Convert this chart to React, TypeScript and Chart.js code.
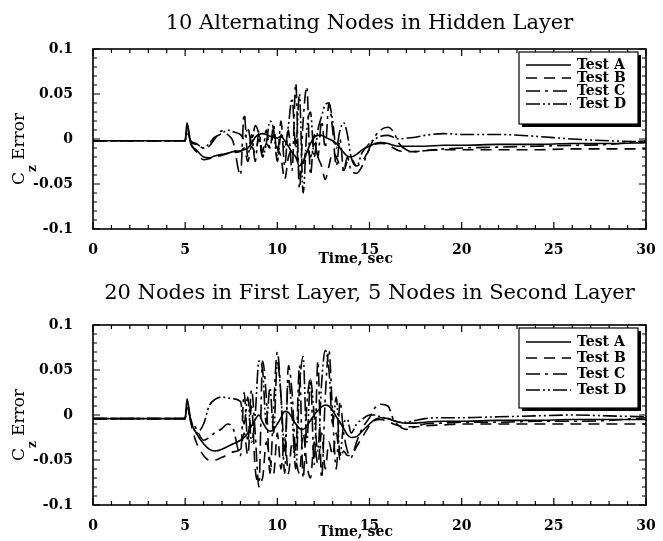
import React, { useEffect, useRef } from "react";
import { Chart, registerables } from "chart.js";

Chart.register(...registerables);

// ---------------- data ----------------
const timeSec = [
  0, 4.9, 5.0, 5.1, 5.3, 5.6, 6.0, 6.3, 6.6, 7.0, 7.3, 7.6, 8.0, 8.2, 8.4, 8.6, 8.8, 9.0, 9.2, 9.4,
  9.6, 9.8, 10.0, 10.2, 10.4, 10.6, 10.8, 11.0, 11.2, 11.4, 11.6, 11.8, 12.0, 12.2, 12.4, 12.6, 12.8,
  13.0, 13.2, 13.4, 13.6, 13.8, 14.0, 14.3, 14.6, 15.0, 15.3, 15.6, 16.0, 16.3, 16.6, 17.0, 17.5, 18,
  19, 20, 22, 24, 26, 28, 30,
];

const seriesLabels = ["Test A", "Test B", "Test C", "Test D"];

const topTitle = "10 Alternating Nodes in Hidden Layer";
const bottomTitle = "20 Nodes in First Layer, 5 Nodes in Second Layer";
const xAxisTitle = "Time, sec";

const xTickValues = [0, 5, 10, 15, 20, 25, 30];
const xTickLabels = ["0", "5", "10", "15", "20", "25", "30"];
const yTickValues = [-0.1, -0.05, 0, 0.05, 0.1];
const yTickLabels = ["-0.1", "-0.05", "0", "0.05", "0.1"];

// top panel: 10 alternating nodes in hidden layer
const topTestA = [
  -0.002, -0.002, -0.002, 0.018, -0.005, -0.012, -0.02, -0.021, -0.019, -0.017, -0.016, -0.014, -0.013,
  -0.012, -0.01, -0.005, 0.002, 0.005, 0.006, 0.005, 0.003, 0.002, 0.001, 0.003, -0.002, -0.008, -0.015,
  -0.02, -0.03, -0.025, -0.015, -0.005, 0.002, 0.004, 0.004, 0.002, 0.0, -0.002, -0.005, -0.01, -0.015,
  -0.019, -0.02, -0.017, -0.012, -0.008, -0.005, -0.004, -0.005, -0.007, -0.008, -0.008, -0.008, -0.008,
  -0.007, -0.007, -0.006, -0.006, -0.005, -0.005, -0.004,
];
const topTestB = [
  -0.002, -0.002, -0.002, 0.015, -0.004, -0.014, -0.023, -0.022, -0.02, -0.018, -0.016, -0.015, -0.014,
  -0.01, -0.025, -0.008, -0.015, 0.0, -0.02, -0.005, -0.01, 0.005, -0.01, -0.02, -0.045, -0.02, -0.01,
  0.0, -0.04, -0.03, -0.01, -0.02, -0.005, -0.02, -0.03, -0.045, -0.03, -0.015, -0.02, -0.03, -0.035,
  -0.025, -0.022, -0.03, -0.025, -0.012, -0.006, -0.005, -0.006, -0.01, -0.013, -0.014, -0.014, -0.013,
  -0.012, -0.012, -0.012, -0.012, -0.011, -0.011, -0.011,
];
const topTestC = [
  -0.002, -0.002, -0.002, 0.01, -0.003, -0.006, -0.01, -0.008, 0.0, 0.009, 0.005, -0.003, -0.04, 0.028,
  -0.02, 0.005, -0.025, 0.008, -0.015, 0.01, -0.01, 0.015, -0.02, 0.02, -0.03, 0.01, -0.035, 0.062,
  -0.055, 0.02, 0.058, -0.04, 0.005, -0.02, 0.02, -0.01, 0.04, 0.01, -0.03, 0.0, -0.035, -0.02, -0.035,
  -0.038, -0.03, -0.01, 0.003, 0.01, 0.013, 0.008, -0.005, -0.012, -0.014, -0.013, -0.011, -0.01,
  -0.009, -0.008, -0.007, -0.006, -0.002,
];
const topTestD = [
  -0.002, -0.002, -0.002, 0.008, -0.002, -0.005, -0.01, -0.005, 0.002, 0.006, 0.01, 0.008, 0.005, 0.0,
  0.012, -0.005, 0.015, 0.005, -0.02, -0.005, 0.02, 0.01, -0.025, 0.005, -0.01, 0.015, 0.045, -0.01,
  0.05, -0.06, 0.01, 0.03, -0.02, 0.01, 0.025, 0.038, 0.04, 0.02, -0.01, 0.01, 0.018, 0.005, -0.02,
  -0.03, -0.015, -0.005, 0.0, 0.003, 0.004, 0.002, 0.0, 0.001, 0.002, 0.004, 0.006, 0.005, 0.005,
  0.003, 0.0, -0.002, -0.003,
];

// bottom panel: 20 nodes in first layer, 5 nodes in second layer
const bottomTestA = [
  -0.004, -0.004, -0.004, 0.018, -0.006, -0.02, -0.032, -0.038, -0.04, -0.038, -0.035, -0.032, -0.028,
  -0.025, -0.02, -0.012, -0.005, 0.0, -0.008, -0.015, -0.018, -0.016, -0.01, -0.003, 0.004, 0.003,
  -0.003, -0.01, -0.015, -0.016, -0.012, -0.006, 0.0, 0.005, 0.009, 0.011, 0.01, 0.005, -0.002, -0.008,
  -0.015, -0.022, -0.025, -0.024, -0.018, -0.01, -0.005, -0.003, -0.004, -0.006, -0.008, -0.009,
  -0.009, -0.008, -0.007, -0.007, -0.006, -0.006, -0.005, -0.005, -0.005,
];
const bottomTestB = [
  -0.004, -0.004, -0.004, 0.015, -0.008, -0.03, -0.045, -0.05, -0.05, -0.047, -0.044, -0.041, -0.038,
  -0.02, -0.045, 0.01, -0.06, -0.075, -0.07, -0.03, -0.05, -0.065, -0.02, -0.06, -0.025, -0.065, -0.03,
  -0.05, -0.065, -0.02, -0.055, -0.07, -0.03, -0.055, -0.02, -0.06, -0.03, -0.045, -0.02, -0.05, -0.04,
  -0.045, -0.045, -0.035, -0.025, -0.012, -0.006, -0.005, -0.007, -0.01, -0.012, -0.013, -0.013,
  -0.012, -0.011, -0.01, -0.01, -0.01, -0.01, -0.01, -0.01,
];
const bottomTestC = [
  -0.004, -0.004, -0.004, 0.01, -0.005, -0.015, -0.028, -0.025, -0.02, -0.015, -0.01, -0.015, -0.045,
  0.025, -0.03, 0.028, -0.02, -0.08, 0.06, 0.02, -0.065, 0.01, 0.07, 0.02, -0.065, 0.055, 0.025, -0.04,
  0.055, -0.07, 0.01, 0.04, -0.055, 0.06, -0.07, 0.02, 0.072, 0.0, -0.06, 0.015, -0.02, -0.04, -0.047,
  -0.03, -0.015, -0.003, 0.008, 0.012, 0.01, -0.005, -0.012, -0.016, -0.013, -0.01, -0.009, -0.008,
  -0.008, -0.007, -0.007, -0.006, -0.003,
];
const bottomTestD = [
  -0.004, -0.004, -0.004, 0.008, -0.005, -0.02, -0.01, 0.01, 0.017, 0.02, 0.019, 0.018, 0.015, -0.01,
  0.02, -0.03, 0.0, 0.06, 0.05, -0.01, 0.03, -0.02, 0.06, 0.02, -0.04, 0.04, 0.0, -0.06, 0.03, 0.065,
  -0.03, 0.04, 0.0, -0.04, 0.035, 0.072, 0.05, -0.01, 0.02, -0.045, -0.01, -0.005, -0.02, -0.01, -0.005,
  0.0, 0.0, -0.002, -0.004, -0.006, -0.008, -0.008, -0.006, -0.004, -0.003, -0.003, -0.002, -0.001,
  0.0, -0.001, -0.002,
];

// ---------------- styles ----------------
const SERIF = '"DejaVu Serif", "Liberation Serif", serif';
const lineDashes: number[][] = [[], [11, 7], [14, 5, 3, 5], [14, 3, 2, 3, 2, 3]];

type PanelProps = {
  title: string;
  series: number[][];
  canvasHeight: number;
  areaTop: number;
  areaBottom: number;
  titleY: number;
  xTitleOffset: number;
  legendFirstRow: number;
  legendRowGap: number;
  legendHeight: number;
};

const panelPlugin = {
  id: "panelDecor",
  afterDraw(chart: any, _args: any, opts: any) {
    const { ctx, chartArea } = chart;
    const xs = chart.scales.x;
    const ys = chart.scales.y;
    const { left, right, top, bottom } = chartArea;
    ctx.save();
    ctx.fillStyle = "#000";
    ctx.strokeStyle = "#000";

    // title
    ctx.font = `21px ${SERIF}`;
    ctx.textAlign = "center";
    ctx.textBaseline = "middle";
    ctx.fillText(opts.title, (left + right) / 2, opts.titleY);

    // frame
    ctx.lineWidth = 1.6;
    ctx.setLineDash([]);
    ctx.strokeRect(left, top, right - left, bottom - top);

    // inward ticks
    ctx.lineWidth = 1.2;
    ctx.beginPath();
    for (let v = 0; v <= 30; v += 1) {
      const px = xs.getPixelForValue(v);
      const len = v % 5 === 0 ? 7 : 4;
      ctx.moveTo(px, bottom);
      ctx.lineTo(px, bottom - len);
      ctx.moveTo(px, top);
      ctx.lineTo(px, top + len);
    }
    for (let i = -10; i <= 10; i++) {
      const py = ys.getPixelForValue(i / 100);
      const len = i % 5 === 0 ? 7 : 4;
      ctx.moveTo(left, py);
      ctx.lineTo(left + len, py);
      ctx.moveTo(right, py);
      ctx.lineTo(right - len, py);
    }
    ctx.stroke();

    // x axis title
    ctx.font = `bold 14px ${SERIF}`;
    ctx.textAlign = "center";
    ctx.textBaseline = "middle";
    ctx.fillText(opts.xTitle, left + (right - left) * 0.475, bottom + opts.xTitleOffset);

    // y axis title  C_z Error
    ctx.save();
    const cy = (top + bottom) / 2 + 10;
    ctx.translate(20, cy);
    ctx.rotate(-Math.PI / 2);
    ctx.textBaseline = "middle";
    ctx.textAlign = "left";
    ctx.font = `17px ${SERIF}`;
    const wC = ctx.measureText("C").width;
    ctx.font = `bold 12px ${SERIF}`;
    const wZ = ctx.measureText("z").width;
    ctx.font = `17px ${SERIF}`;
    const wE = ctx.measureText(" Error").width;
    const total = wC + wZ + wE;
    const x0 = -total / 2;
    ctx.fillText("C", x0, 0);
    ctx.font = `bold 12px ${SERIF}`;
    ctx.fillText("z", x0 + wC, 13);
    ctx.font = `17px ${SERIF}`;
    ctx.fillText(" Error", x0 + wC + wZ, 0);
    ctx.restore();

    // legend box with shadow
    const bw = 119;
    const bh = opts.legendHeight;
    const bx = right - bw - 8;
    const by = top + 3;
    ctx.fillStyle = "#000";
    ctx.fillRect(bx + 3, by + 3, bw, bh);
    ctx.fillStyle = "#fff";
    ctx.fillRect(bx, by, bw, bh);
    ctx.lineWidth = 1.2;
    ctx.strokeStyle = "#000";
    ctx.strokeRect(bx, by, bw, bh);
    const datasets = chart.data.datasets;
    for (let i = 0; i < datasets.length; i++) {
      const ry = top + opts.legendFirstRow + opts.legendRowGap * i;
      ctx.setLineDash(datasets[i].borderDash || []);
      ctx.lineWidth = 1.6;
      ctx.beginPath();
      ctx.moveTo(bx + 7, ry);
      ctx.lineTo(bx + 52, ry);
      ctx.stroke();
      ctx.setLineDash([]);
      ctx.fillStyle = "#000";
      ctx.font = `bold 14px ${SERIF}`;
      ctx.textAlign = "left";
      ctx.textBaseline = "middle";
      ctx.fillText(datasets[i].label, bx + 58, ry);
    }
    ctx.restore();
  },
};

function Panel(props: PanelProps) {
  const ref = useRef<HTMLCanvasElement | null>(null);
  useEffect(() => {
    const canvas = ref.current;
    if (!canvas) return;
    const datasets = props.series.map((vals, i) => ({
      label: seriesLabels[i],
      data: timeSec.map((t, k) => ({ x: t, y: vals[k] })),
      borderColor: "#000",
      borderWidth: 1.6,
      borderDash: lineDashes[i],
      pointRadius: 0,
      fill: false,
      cubicInterpolationMode: "monotone" as const,
    }));
    const chart = new Chart(canvas, {
      type: "line",
      data: { datasets },
      plugins: [panelPlugin],
      options: {
        animation: false,
        responsive: false,
        maintainAspectRatio: false,
        layout: { padding: { top: props.areaTop, left: 0, right: 17, bottom: 0 } },
        plugins: {
          legend: { display: false },
          tooltip: { enabled: false },
          title: { display: false },
          panelDecor: {
            title: props.title,
            xTitle: xAxisTitle,
            titleY: props.titleY,
            xTitleOffset: props.xTitleOffset,
            legendFirstRow: props.legendFirstRow,
            legendRowGap: props.legendRowGap,
            legendHeight: props.legendHeight,
          },
        } as any,
        scales: {
          x: {
            type: "linear",
            min: 0,
            max: 30,
            grid: { display: false },
            border: { display: false },
            afterFit: (s: any) => {
              s.height = props.canvasHeight - props.areaBottom;
            },
            afterBuildTicks: (s: any) => {
              s.ticks = xTickValues.map((v) => ({ value: v }));
            },
            ticks: {
              color: "#000",
              padding: 5,
              maxRotation: 0,
              font: { family: SERIF, size: 14, weight: "bold" },
              callback: (v: any) => {
                const i = xTickValues.indexOf(Number(v));
                return i >= 0 ? xTickLabels[i] : "";
              },
            },
          },
          y: {
            type: "linear",
            min: -0.1,
            max: 0.1,
            grid: { display: false },
            border: { display: false },
            afterFit: (s: any) => {
              s.width = 93;
            },
            afterBuildTicks: (s: any) => {
              s.ticks = yTickValues.map((v) => ({ value: v }));
            },
            ticks: {
              color: "#000",
              padding: 12,
              font: { family: SERIF, size: 14, weight: "bold" },
              callback: (v: any) => {
                const i = yTickValues.findIndex((t) => Math.abs(t - Number(v)) < 1e-9);
                return i >= 0 ? yTickLabels[i] : "";
              },
            },
          },
        },
      } as any,
    });
    return () => chart.destroy();
  }, []);
  return (
    <canvas
      ref={ref}
      width={663}
      height={props.canvasHeight}
      style={{ display: "block", width: 663, height: props.canvasHeight }}
    />
  );
}

export default function App() {
  return (
    <div
      style={{
        position: "absolute",
        left: 0,
        top: 0,
        width: 663,
        height: 541,
        background: "#fff",
        overflow: "hidden",
      }}
    >
      <Panel
        title={topTitle}
        series={[topTestA, topTestB, topTestC, topTestD]}
        canvasHeight={272}
        areaTop={49}
        areaBottom={229}
        titleY={24}
        xTitleOffset={30}
        legendFirstRow={16}
        legendRowGap={13}
        legendHeight={72}
      />
      <Panel
        title={bottomTitle}
        series={[bottomTestA, bottomTestB, bottomTestC, bottomTestD]}
        canvasHeight={269}
        areaTop={53}
        areaBottom={233}
        titleY={22}
        xTitleOffset={27}
        legendFirstRow={17}
        legendRowGap={16}
        legendHeight={80}
      />
    </div>
  );
}
